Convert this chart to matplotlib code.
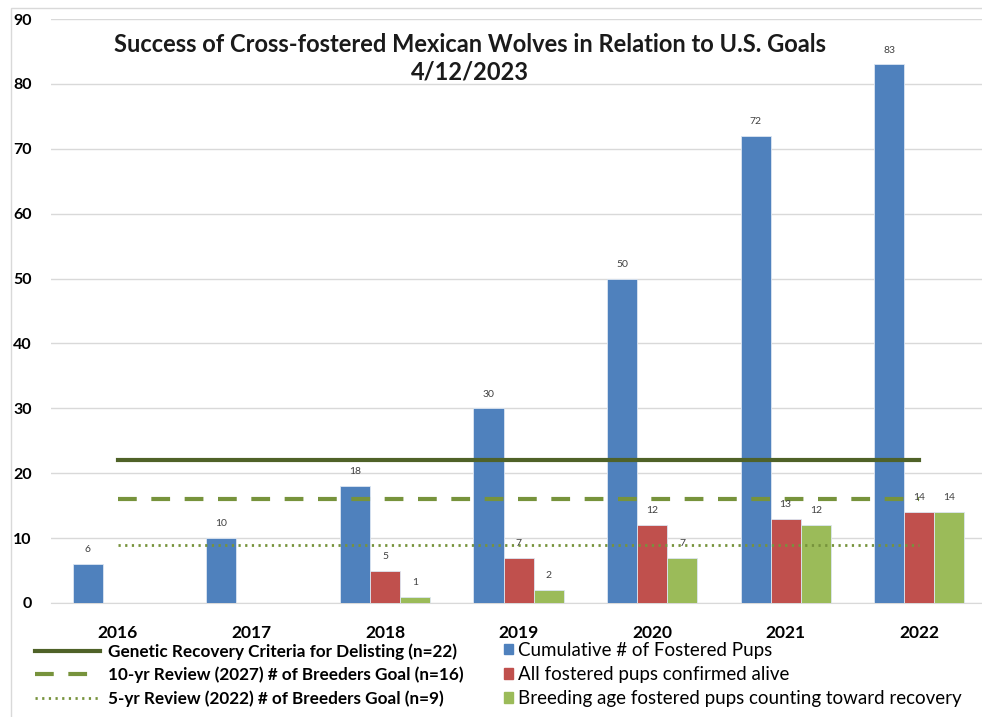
import matplotlib.pyplot as plt
import numpy as np
from matplotlib.lines import Line2D
from matplotlib.patches import Patch, Rectangle

years = ['2016', '2017', '2018', '2019', '2020', '2021', '2022']
cumulative = [6, 10, 18, 30, 50, 72, 83]
alive = [None, None, 5, 7, 12, 13, 14]
breeding = [None, None, 1, 2, 7, 12, 14]

genetic_goal = 22
review10_goal = 16
review5_goal = 9

blue = '#4F81BD'
red = '#C0504D'
green = '#9BBB59'
dark_green = '#4F6228'
mid_green = '#77933C'

plt.rcParams['font.family'] = ['Lato', 'DejaVu Sans']

fig = plt.figure(figsize=(9.82, 7.17), dpi=100)
ax = fig.add_axes([0.052, 0.159, 0.948, 0.8145])

x = np.arange(len(years))
w = 0.225

def bars(vals, offset, color):
    xs = [xi + offset for xi, v in zip(x, vals) if v is not None]
    vs = [v for v in vals if v is not None]
    b = ax.bar(xs, vs, width=w, color=color, edgecolor='#DCE6F2', linewidth=0.6, zorder=3)
    for xi, v in zip(xs, vs):
        ax.annotate(str(v), (xi, v), xytext=(0, 7), textcoords='offset points',
                    ha='center', va='bottom', fontsize=7.5, color='#404040', zorder=5)
    return b

bars(cumulative, -w, blue)
bars(alive, 0, red)
bars(breeding, w, green)

ax.plot(x, [genetic_goal] * len(x), color=dark_green, lw=3, zorder=4)
ax.plot(x, [review10_goal] * len(x), color=mid_green, lw=3, dashes=(4.5, 3.5), zorder=4)
ax.plot(x, [review5_goal] * len(x), color=mid_green, lw=2, dashes=(0.8, 1.6), zorder=4)

ax.set_xlim(-0.5, 6.47)
ax.set_ylim(0, 90)
ax.set_yticks(range(0, 91, 10))
ax.set_xticks(x)
ax.set_xticklabels(years, fontsize=12.5, fontweight='bold')
ax.tick_params(axis='x', length=0, pad=16)
ax.tick_params(axis='y', length=0, pad=14, labelsize=11.5)
for t in ax.get_yticklabels():
    t.set_fontweight('bold')
ax.grid(axis='y', color='#D9D9D9', lw=1, zorder=0)
for s in ['top', 'right', 'left']:
    ax.spines[s].set_visible(False)
ax.spines['bottom'].set_color('#D9D9D9')

ax.text(0.45, 0.9555, 'Success of Cross-fostered Mexican Wolves in Relation to U.S. Goals',
        transform=ax.transAxes, ha='center', va='center', fontsize=17, fontweight='bold',
        color='#1a1a1a')
ax.text(0.45, 0.909, '4/12/2023', transform=ax.transAxes, ha='center', va='center',
        fontsize=17, fontweight='bold', color='#1a1a1a')

line_handles = [
    Line2D([], [], color=dark_green, lw=3),
    Line2D([], [], color=mid_green, lw=3, dashes=(4.5, 3.5)),
    Line2D([], [], color=mid_green, lw=2, dashes=(0.8, 1.6)),
]
line_labels = ['Genetic Recovery Criteria for Delisting (n=22)',
               '10-yr Review (2027) # of Breeders Goal (n=16)',
               '5-yr Review (2022) # of Breeders Goal (n=9)']
leg1 = fig.legend(line_handles, line_labels, loc='upper left', bbox_to_anchor=(0.0356, 0.103),
                  frameon=False, fontsize=12.3, handlelength=3.8, handletextpad=0.45,
                  labelspacing=0.4, borderaxespad=0, borderpad=0)
for t in leg1.get_texts():
    t.set_fontweight('bold')

bar_handles = [Patch(color=blue), Patch(color=red), Patch(color=green)]
bar_labels = ['Cumulative # of Fostered Pups', 'All fostered pups confirmed alive',
              'Breeding age fostered pups counting toward recovery']
fig.legend(bar_handles, bar_labels, loc='upper left', bbox_to_anchor=(0.513, 0.105),
           frameon=False, fontsize=13.5, handlelength=0.5, handleheight=0.5,
           handletextpad=0.27, labelspacing=0.39, borderaxespad=0, borderpad=0)

fig.add_artist(Rectangle((0.011, -0.01), 1.0, 0.999, transform=fig.transFigure,
                         fill=False, edgecolor='#D9D9D9', lw=1))

fig.savefig('out.png', dpi=100)
